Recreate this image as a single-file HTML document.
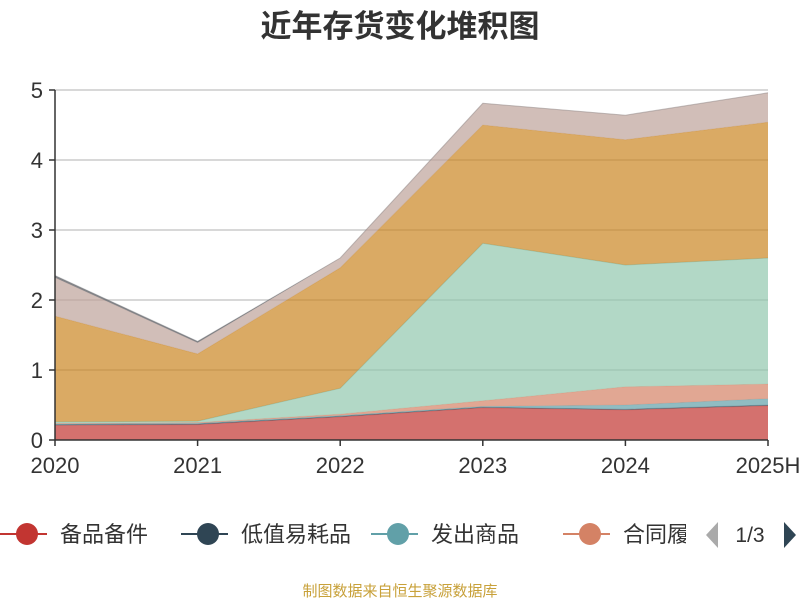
<!DOCTYPE html>
<html><head><meta charset="utf-8"><style>
body{margin:0;background:#fff;font-family:"Liberation Sans","Noto Sans CJK SC",sans-serif;}
svg text{font-family:"Liberation Sans","Noto Sans CJK SC",sans-serif;}
</style></head><body>
<svg id="c" width="800" height="600" xmlns="http://www.w3.org/2000/svg">
<text x="400" y="37" text-anchor="middle" font-size="31" font-weight="bold" fill="#333">近年存货变化堆积图</text>
<g id="grid"></g><g id="areas"></g><g id="axes"></g>
<defs><clipPath id="lc"><rect x="0" y="510" width="686" height="50"/></clipPath></defs>
<g id="legend" clip-path="url(#lc)"></g>
<path d="M718,522 L706,535 L718,548 Z" fill="#aaa"/>
<text x="750" y="542" text-anchor="middle" font-size="21" fill="#333">1/3</text>
<path d="M784,522 L796,535 L784,548 Z" fill="#2f4554"/>
<text x="400" y="596" text-anchor="middle" font-size="15" fill="#c8a13a">制图数据来自恒生聚源数据库</text>
</svg>
<script>
const categories=["2020","2021","2022","2023","2024","2025H"];
const yTicks=[0,1,2,3,4,5];
const names=["备品备件","低值易耗品","发出商品","合同履约成本","在产品","委托加工物资","库存商品","原材料","其他"];
const colors=["#c23531","#2f4554","#61a0a8","#d48265","#91c7ae","#749f83","#ca8622","#bda29a","#6e7074"];
const s0=[0.21,0.22,0.33,0.46,0.43,0.49];
const s1=[0.01,0.01,0.01,0.01,0.01,0.01];
const s2=[0.01,0.01,0.01,0.01,0.06,0.09];
const s3=[0.01,0.01,0.02,0.08,0.26,0.21];
const s4=[0.02,0.02,0.37,2.25,1.74,1.80];
const s5=[0,0,0,0,0,0];
const s6=[1.51,0.96,1.72,1.69,1.79,1.94];
const s7=[0.55,0.16,0.14,0.31,0.35,0.42];
const s8=[0.03,0.02,0,0,0,0];
const series=[s0,s1,s2,s3,s4,s5,s6,s7,s8];
const X0=55,X1=768,Y0=440,PY=70;
const xs=i=>X0+i*(X1-X0)/(categories.length-1);
const ys=v=>Y0-v*PY;
const NS="http://www.w3.org/2000/svg";
function mk(t,a,p){const e=document.createElementNS(NS,t);for(const k in a)e.setAttribute(k,a[k]);p.appendChild(e);return e;}
const grid=document.getElementById('grid'),axes=document.getElementById('axes'),areas=document.getElementById('areas'),leg=document.getElementById('legend');
yTicks.forEach(t=>{
 if(t>0){const l=mk('line',{x1:X0,x2:X1,y1:ys(t),y2:ys(t),stroke:'#ccc','stroke-width':1.5},grid);
 
 }
 const k=mk('line',{x1:X0-6,x2:X0,y1:ys(t),y2:ys(t),stroke:'#333','stroke-width':1.5},axes);
 
 
 const tx=mk('text',{x:X0-12,y:ys(t)+8,'text-anchor':'end','font-size':22,fill:'#333'},axes);tx.textContent=t;
 
 
});
let base=categories.map(()=>0);
series.forEach((s,si)=>{
 const top=base.map((b,i)=>b+s[i]);
 let d='M'+top.map((v,i)=>xs(i)+','+ys(v)).join(' L');
 for(let i=base.length-1;i>=0;i--)d+=' L'+xs(i)+','+ys(base[i]);
 const p=mk('path',{d:d+'Z',fill:colors[si],'fill-opacity':si==8?0.85:0.7,stroke:'none'},areas);
 
 
 const ln=mk('polyline',{points:top.map((v,i)=>xs(i)+','+ys(v)).join(' '),fill:'none',stroke:colors[si],'stroke-opacity':0.3,'stroke-width':1},areas);
 
 
 base=top;
});
const ya=mk('line',{x1:X0,x2:X0,y1:ys(5),y2:Y0,stroke:'#333','stroke-width':1.5},axes);


const xa=mk('line',{x1:X0,x2:X1,y1:Y0,y2:Y0,stroke:'#333','stroke-width':1.5},axes);


categories.forEach((c,i)=>{
 const k=mk('line',{x1:xs(i),x2:xs(i),y1:Y0,y2:Y0+6,stroke:'#333','stroke-width':1.5},axes);
 
 
 const t=mk('text',{x:xs(i),y:Y0+33,'text-anchor':'middle','font-size':22,fill:'#333'},axes);t.textContent=c;
 
 
});
const lx=[27,208,398,590];
[0,1,2,3].forEach((si,j)=>{
 const g=mk('g',{},leg);
 
 
 mk('line',{x1:lx[j]-27,x2:lx[j]+20,y1:534,y2:534,stroke:colors[si],'stroke-width':2},g);
 mk('circle',{cx:lx[j],cy:534,r:11,fill:colors[si]},g);
 const t=mk('text',{x:lx[j]+33,y:542,'font-size':22,fill:'#333'},g);t.textContent=names[si];
});
</script>
</body></html>
